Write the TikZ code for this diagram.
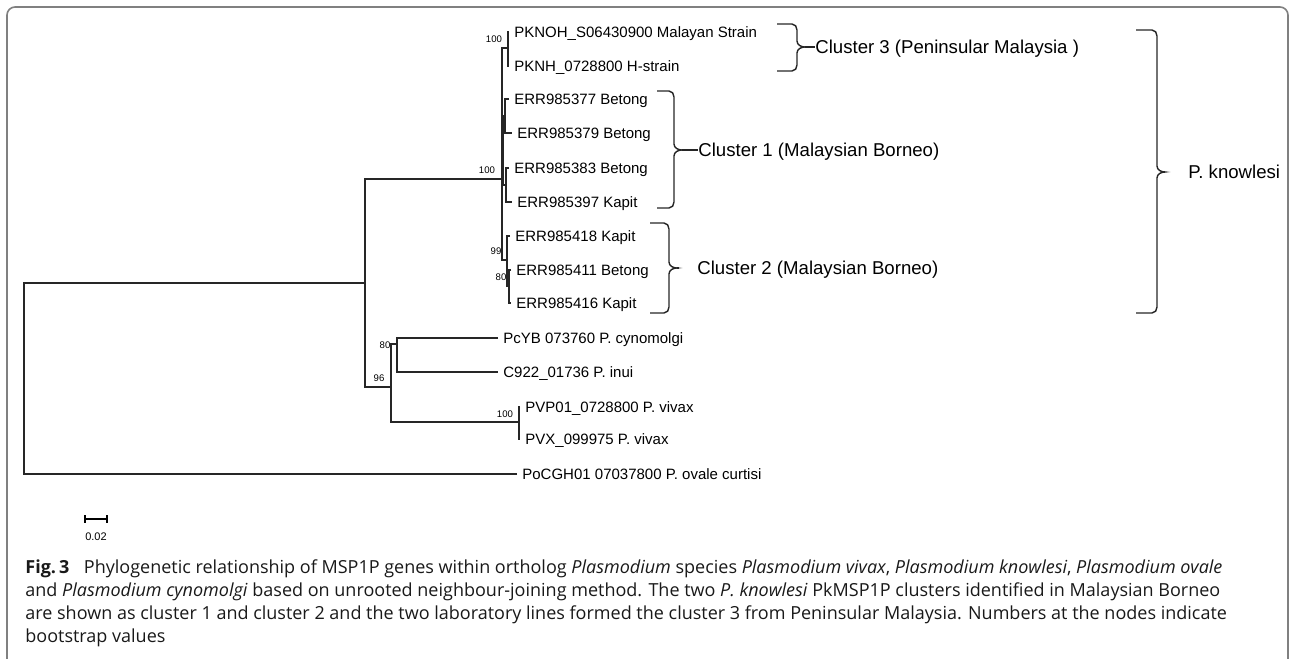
\documentclass[tikz,border=0pt]{standalone}
\usepackage{fontspec}
\usepackage{tikz}
\usetikzlibrary{arrows}
\newfontfamily\treefont{Liberation Sans}
\newfontfamily\capfont{Open Sans}

% curly bracket: left x, right x, top y, middle y, bottom y, name of the tip
\newcommand{\clbrace}[6]{%
  \draw[brace line] (#1,#3) -- (#2-5,#3) to[out=0,in=90] (#2,#3+6)
    -- (#2,#4-6) to[out=-90,in=180] (#2+8,#4) coordinate (#6)
    to[out=180,in=90] (#2,#4+6) -- (#2,#5-6) to[out=-90,in=0] (#2-5,#5) -- (#1,#5);}

\begin{document}
\begin{tikzpicture}[x=0.5pt,y=-0.5pt,
  leaf/.style={anchor=west,inner xsep=2.5pt,inner ysep=0pt,
               font=\treefont\fontsize{7.5}{9}\selectfont,text height=5.4pt,text depth=0pt},
  boot/.style={inner sep=0pt,font=\treefont\fontsize{4.8}{6}\selectfont},
  clus/.style={anchor=west,inner sep=0pt,
               font=\treefont\fontsize{9.3}{11}\selectfont,text height=6.6pt,text depth=0pt},
  branch/.style={draw=black!85,line width=0.75pt},
  brace line/.style={draw=black!85,line width=0.7pt},
  frame/.style={draw=black!50,line width=0.8pt,rounded corners=4pt}]

  \useasboundingbox (0,0) rectangle (1292,659);
  \draw[frame] (7,662) -- (7,7) -- (1288,7) -- (1288,662);

  % leaves
  \node[leaf] (pknoh) at (509,32)  {PKNOH\_S06430900 Malayan Strain};
  \node[leaf] (pknh)  at (509,66)  {PKNH\_0728800 H-strain};
  \node[leaf] (e377)  at (509,99)  {ERR985377 Betong};
  \node[leaf] (e379)  at (512,133) {ERR985379 Betong};
  \node[leaf] (e383)  at (509,168) {ERR985383 Betong};
  \node[leaf] (e397)  at (512,202) {ERR985397 Kapit};
  \node[leaf] (e418)  at (510,236) {ERR985418 Kapit};
  \node[leaf] (e411)  at (511,270) {ERR985411 Betong};
  \node[leaf] (e416)  at (511,303) {ERR985416 Kapit};
  \node[leaf] (pcyb)  at (498,338) {PcYB 073760 P. cynomolgi};
  \node[leaf] (inui)  at (498,372) {C922\_01736 P. inui};
  \node[leaf] (pvp)   at (520,407) {PVP01\_0728800 P. vivax};
  \node[leaf] (pvx)   at (520,439) {PVX\_099975 P. vivax};
  \node[leaf] (ovale) at (517,474) {PoCGH01 07037800 P. ovale curtisi};

  % inner nodes
  \coordinate (root) at (24,283);
  \coordinate (nIn)  at (365,283);
  \coordinate (nK)   at (502,179);
  \coordinate (n3)   at (508,48);
  \coordinate (c1)   at (503,150);
  \coordinate (c1a)  at (505,116);
  \coordinate (c1b)  at (506,185);
  \coordinate (n99)  at (507,260);
  \coordinate (n80b) at (509,286);
  \coordinate (n96)  at (391,387);
  \coordinate (n80)  at (397,344);
  \coordinate (nV)   at (519,422);

  % branches
  \draw[branch] (ovale.west) -| (root) -- (nIn);
  \draw[branch] (nK) -| (nIn) |- (n96);
  \draw[branch] (n3) -| (nK) |- (n99);
  \draw[branch] (pknoh.west) -| (n3) |- (pknh.west);
  \draw[branch] (c1) -- (c1 -| nK);
  \draw[branch] (c1a) -| (c1) |- (c1b);
  \draw[branch] (e377.west) -| (c1a) |- (e379.west);
  \draw[branch] (e383.west) -| (c1b) |- (e397.west);
  \draw[branch] (e418.west) -| (n99) |- (n80b);
  \draw[branch] (e411.west) -| (n80b) |- (e416.west);
  \draw[branch] (n80) -| (n96) |- (nV);
  \draw[branch] (pcyb.west) -| (n80) |- (inui.west);
  \draw[branch] (pvp.west) -| (nV) |- (pvx.west);

  % bootstrap values
  \node[boot] (b3)   at (494,39)  {100};
  \node[boot] (bK)   at (487,170) {100};
  \node[boot] (b99)  at (496,251) {99};
  \node[boot] (b80b) at (501,277) {80};
  \node[boot] (b80)  at (385,345) {80};
  \node[boot] (b96)  at (379,378) {96};
  \node[boot] (bV)   at (505,414) {100};

  % clusters
  \clbrace{777}{797}{24}{47}{71}{t3}
  \clbrace{657}{674}{91}{150}{208}{t1}
  \clbrace{650}{669}{223}{268}{313}{t2}
  \clbrace{1136}{1157}{30}{172}{313}{tK}

  \node[clus] (cl3) at (815,47)   {Cluster 3 (Peninsular Malaysia )};
  \node[clus] (cl1) at (698,150)  {Cluster 1 (Malaysian Borneo)};
  \node[clus] (cl2) at (697,268)  {Cluster 2 (Malaysian Borneo)};
  \node[clus] (clK) at (1188,172) {P. knowlesi};

  \draw[brace line] (t3) -- (cl3.west);
  \draw[brace line] (t1) -- (cl1.west);
  \draw[brace line,shorten >=9] (t2) -- (cl2.west);
  \draw[brace line,shorten >=12] (tK) -- (clK.west);

  % scale bar
  \coordinate (sb1) at (85,519);
  \coordinate (sb2) at (107,519);
  \draw[line width=1pt] (sb1) -- (sb2);
  \draw[line width=1pt] ([yshift=2pt]sb1) -- ([yshift=-2pt]sb1);
  \draw[line width=1pt] ([yshift=2pt]sb2) -- ([yshift=-2pt]sb2);
  \node[boot,font=\treefont\fontsize{5.5}{6}\selectfont] (sbl) at (96,537) {0.02};

  % caption
  \node[anchor=base west,inner sep=0pt,align=left,text=black!90,
        font=\capfont\fontsize{9}{11.5}\selectfont] (cap) at (25,642)
   {\textbf{Fig.\,3}\hspace{0.55em} Phylogenetic relationship of MSP1P genes within ortholog \emph{Plasmodium} species \emph{Plasmodium vivax}, \emph{Plasmodium knowlesi}, \emph{Plasmodium ovale}\\
    and \emph{Plasmodium cynomolgi} based on unrooted neighbour-joining method. The two \emph{P. knowlesi} PkMSP1P clusters identified in Malaysian Borneo\\
    are shown as cluster 1 and cluster 2 and the two laboratory lines formed the cluster 3 from Peninsular Malaysia. Numbers at the nodes indicate\\
    bootstrap values};

\end{tikzpicture}
\end{document}
